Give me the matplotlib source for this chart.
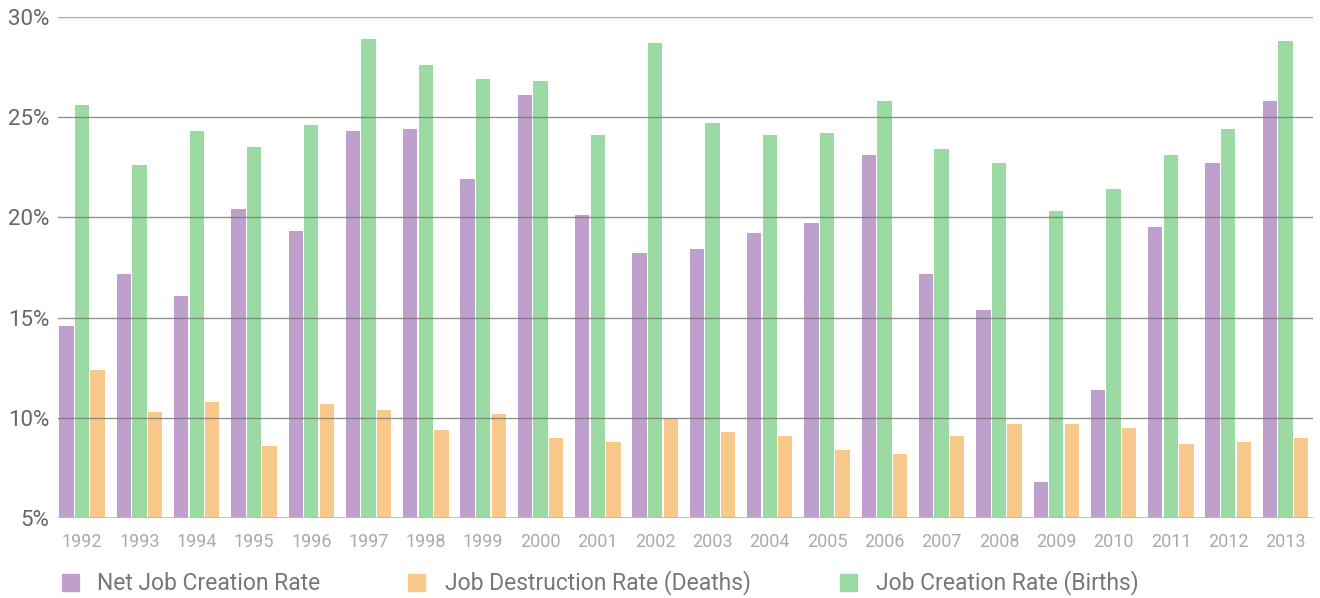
import matplotlib
matplotlib.use("Agg")
import matplotlib.pyplot as plt
import numpy as np
from matplotlib.patches import Rectangle

plt.rcParams["font.family"] = ["Roboto", "DejaVu Sans"]

years = [str(y) for y in range(1992, 2014)]
net_creation = [14.6, 17.2, 16.1, 20.4, 19.3, 24.3, 24.4, 21.9, 26.1, 20.1, 18.2,
                18.4, 19.2, 19.7, 23.1, 17.2, 15.4, 6.8, 11.4, 19.5, 22.7, 25.8]
creation_births = [25.6, 22.6, 24.3, 23.5, 24.6, 28.9, 27.6, 26.9, 26.8, 24.1, 28.7,
                   24.7, 24.1, 24.2, 25.8, 23.4, 22.7, 20.3, 21.4, 23.1, 24.4, 28.8]
destruction_deaths = [12.4, 10.3, 10.8, 8.6, 10.7, 10.4, 9.4, 10.2, 9.0, 8.8, 10.0,
                      9.3, 9.1, 8.4, 8.2, 9.1, 9.7, 9.7, 9.5, 8.7, 8.8, 9.0]
legend_labels = ["Net Job Creation Rate", "Job Destruction Rate (Deaths)",
                 "Job Creation Rate (Births)"]

purple = "#bf9fcb"
green = "#9bdaa2"
orange = "#f9c98c"

W, H = 1320, 598
fig = plt.figure(figsize=(W / 100, H / 100), dpi=100)
ax = fig.add_axes([58 / W, 1 - 518 / H, (1313 - 58) / W, (518 - 17) / H])

x = np.arange(len(years))
w = 0.25
off = 0.272
ax.bar(x - off, net_creation, w, color=purple, zorder=2)
ax.bar(x, creation_births, w, color=green, zorder=2)
ax.bar(x + off, destruction_deaths, w, color=orange, zorder=2)

ax.set_ylim(5, 30)
ax.set_xlim(-0.42, len(years) - 1 + 0.48)
ax.set_yticks([5, 10, 15, 20, 25, 30])
ax.set_yticklabels([f"{t}%" for t in [5, 10, 15, 20, 25, 30]])
for t in [10, 15, 20, 25]:
    ax.axhline(t, color="#777777", lw=1, alpha=0.8, zorder=3)
ax.axhline(30, color="#aaaaaa", lw=1, zorder=3)
ax.axhline(5, color="#bbbbbb", lw=2, zorder=3)

ax.set_xticks(x)
ax.set_xticklabels(years)
for s in ax.spines.values():
    s.set_visible(False)
ax.tick_params(axis="both", length=0)
ax.tick_params(axis="x", labelsize=13, labelcolor="#aaaaaa", pad=11)
ax.tick_params(axis="y", labelsize=16, labelcolor="#666666", pad=6)

# legend drawn by hand to match the spacing of the original
legend_colors = [purple, orange, green]
box_x = [62, 408, 840]
text_x = [97, 445, 876]
for col, bx, tx, lab in zip(legend_colors, box_x, text_x, legend_labels):
    fig.patches.append(Rectangle((bx / W, 1 - 591 / H), 17 / W, 17 / H,
                                 transform=fig.transFigure, color=col))
    fig.text(tx / W, 1 - 583 / H, lab, fontsize=16.5, color="#777777",
             va="center", ha="left")

fig.savefig("out.png", dpi=100)
